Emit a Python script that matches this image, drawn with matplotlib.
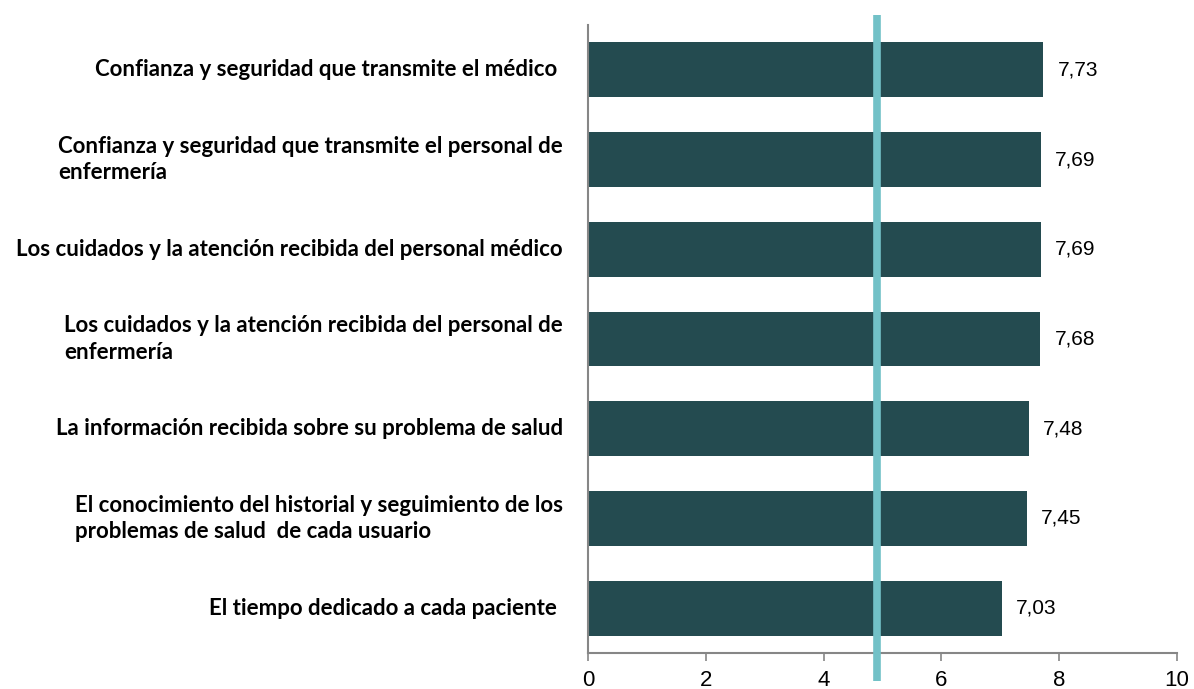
import matplotlib.pyplot as plt
import matplotlib.transforms as mtransforms

categories = [
    "Confianza y seguridad que transmite el médico ",
    "Confianza y seguridad que transmite el personal de\nenfermería",
    "Los cuidados y la atención recibida del personal médico",
    "Los cuidados y la atención recibida del personal de\nenfermería",
    "La información recibida sobre su problema de salud",
    "El conocimiento del historial y seguimiento de los\nproblemas de salud  de cada usuario",
    "El tiempo dedicado a cada paciente ",
]
values = [7.73, 7.69, 7.69, 7.68, 7.48, 7.45, 7.03]
ref_value = 4.9
xticks = [0, 2, 4, 6, 8, 10]

bar_color = "#244B50"
line_color = "#72C1C7"
axis_gray = "#868686"

fig = plt.figure(figsize=(11.94, 6.89), dpi=100)
ax = fig.add_axes([588 / 1194, 1 - 653 / 689, (1177 - 588) / 1194, (653 - 25) / 689])

ypos = list(range(len(categories)))
ax.barh(ypos, values, height=0.61, color=bar_color, zorder=2)
ax.set_ylim(len(categories) - 0.5, -0.5)
ax.set_xlim(0, 10)

for y, v in zip(ypos, values):
    ax.text(v + 0.24, y, f"{v:.2f}".replace(".", ","), va="center", ha="left",
            fontsize=15, family="Liberation Sans", color="#000000")

# reference line running past the plot area
trans = mtransforms.blended_transform_factory(ax.transData, ax.transAxes)
ax.plot([ref_value, ref_value], [-0.045, 1.016], color=line_color, lw=5.5,
        transform=trans, clip_on=False, zorder=3, solid_capstyle="butt")

ax.set_yticks(ypos)
ax.set_yticklabels([])
ax.tick_params(axis="y", length=0)
for y, lab in zip(ypos, categories):
    ax.text(-0.043, y, lab, transform=mtransforms.blended_transform_factory(ax.transAxes, ax.transData),
            ha="right", va="center", multialignment="left", fontsize=16, fontweight="bold",
            family="Lato", linespacing=1.32, color="#000000")

ax.set_xticks(xticks)
ax.set_xticklabels([str(t) for t in xticks], fontsize=16, family="Liberation Sans")
ax.tick_params(axis="x", length=6, width=1.2, color=axis_gray, pad=6)

for s in ["top", "right"]:
    ax.spines[s].set_visible(False)
for s in ["left", "bottom"]:
    ax.spines[s].set_color(axis_gray)
    ax.spines[s].set_linewidth(1.5)

fig.savefig("out.png", dpi=100)
